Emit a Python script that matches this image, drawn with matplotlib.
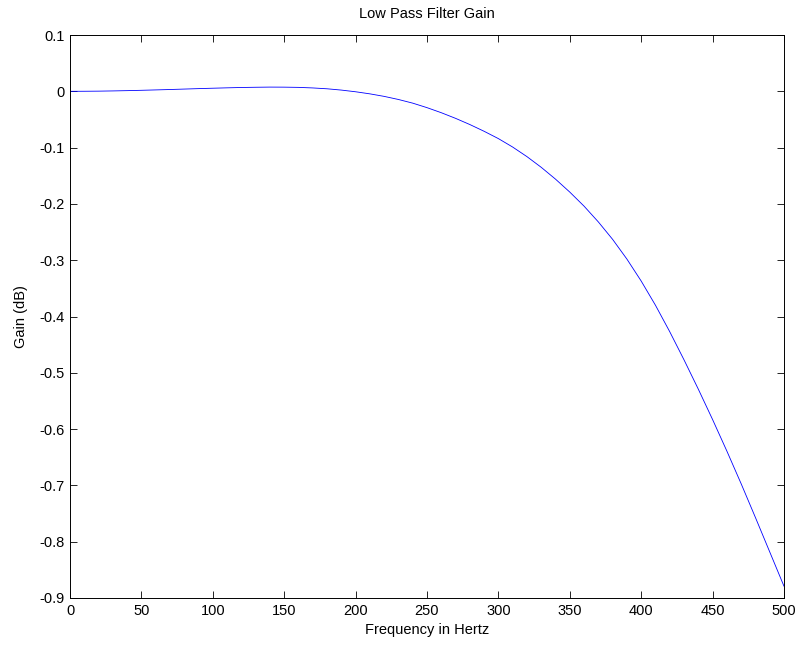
import matplotlib
matplotlib.use("Agg")
import matplotlib.pyplot as plt

# gain of the low pass filter, sampled every 10 Hz
freq = list(range(0, 510, 10))
gain = [0.0000, 0.0001, 0.0003, 0.0007, 0.0012, 0.0018, 0.0025, 0.0032,
        0.0040, 0.0048, 0.0055, 0.0062, 0.0068, 0.0072, 0.0075, 0.0074,
        0.0070, 0.0060, 0.0045, 0.0022, -0.0008, -0.0045, -0.0090, -0.0145,
        -0.021, -0.029, -0.038, -0.048, -0.059, -0.071, -0.084, -0.099,
        -0.116, -0.135, -0.156, -0.179, -0.204, -0.232, -0.263, -0.298,
        -0.337, -0.380, -0.427, -0.477, -0.529, -0.583, -0.639, -0.697,
        -0.757, -0.818, -0.879]

xticks = [0, 50, 100, 150, 200, 250, 300, 350, 400, 450, 500]
yticks = [0.1, 0, -0.1, -0.2, -0.3, -0.4, -0.5, -0.6, -0.7, -0.8, -0.9]
ytick_labels = ["0.1", "0", "-0.1", "-0.2", "-0.3", "-0.4", "-0.5",
                "-0.6", "-0.7", "-0.8", "-0.9"]

plt.rcParams['font.family'] = ['Liberation Sans', 'DejaVu Sans']
plt.rcParams['font.size'] = 10

fig = plt.figure(figsize=(8.03, 6.45), dpi=100)
ax = fig.add_axes([0.0872, 0.0729, 0.8891, 0.8728])

ax.plot(freq, gain, color=(0, 0, 1), linewidth=0.6)

ax.set_xlim(0, 500)
ax.set_ylim(-0.9, 0.1)
ax.set_xticks(xticks)
ax.set_yticks(yticks)
ax.set_yticklabels(ytick_labels)
ax.tick_params(direction='in', top=True, right=True, length=5, width=0.6,
               labelsize=10.5, pad=4)
for s in ax.spines.values():
    s.set_linewidth(0.7)

ax.set_title("Low Pass Filter Gain", fontsize=10.5, pad=12)
ax.set_xlabel("Frequency in Hertz", fontsize=10.5, labelpad=4)
ax.set_ylabel("Gain (dB)", fontsize=10.5, labelpad=8)

fig.savefig("out.png", dpi=100)
